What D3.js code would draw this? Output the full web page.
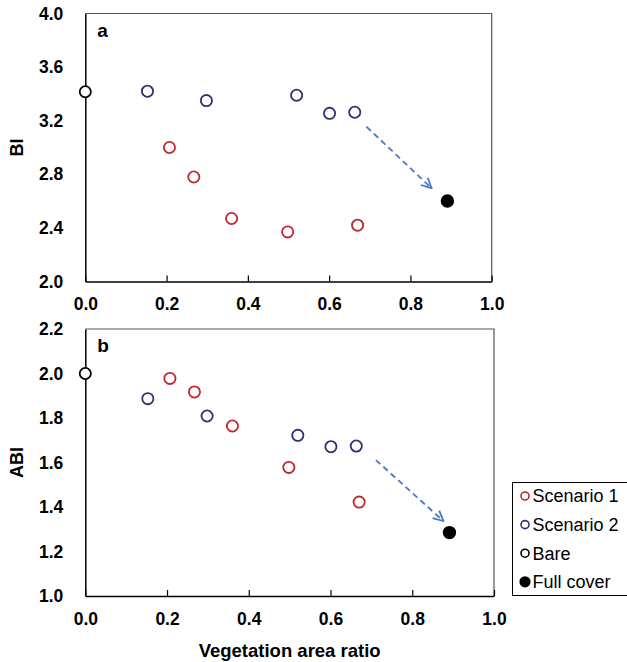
<!DOCTYPE html>
<html>
<head>
<meta charset="utf-8">
<script src="https://cdn.jsdelivr.net/npm/d3@7"></script>
<style>
  body { margin: 0; background: #fff; }
  svg { display: block; font-family: Arial, "Liberation Sans", sans-serif; }
  .tick text { font-weight: bold; font-size: 17.5px; fill: #000; }
</style>
</head>
<body>
<svg id="chart"></svg>
<script>
'use strict';

// vegetation area ratio for each run
var xScen1 = [0.207, 0.267, 0.360, 0.498, 0.670];
var xScen2 = [0.153, 0.298, 0.520, 0.601, 0.663];
var xBare = [0.0];
var xFull = [0.891];

// panel a: BI
var biScen1 = [3.00, 2.78, 2.47, 2.37, 2.42];
var biScen2 = [3.42, 3.35, 3.39, 3.255, 3.263];
var biBare = [3.416];
var biFull = [2.601];

// panel b: ABI
var abiScen1 = [1.978, 1.917, 1.764, 1.578, 1.422];
var abiScen2 = [1.887, 1.809, 1.722, 1.671, 1.674];
var abiBare = [2.0];
var abiFull = [1.285];

// dashed arrows (data coords: [x0, y0, x1, y1])
var arrowA = [0.692, 3.155, 0.852, 2.696];
var arrowB = [0.711, 1.611, 0.876, 1.337];

var xTicks = [0, 0.2, 0.4, 0.6, 0.8, 1.0];
var biTicks = [2.0, 2.4, 2.8, 3.2, 3.6, 4.0];
var abiTicks = [1.0, 1.2, 1.4, 1.6, 1.8, 2.0, 2.2];

var legendItems = ['Scenario 1', 'Scenario 2', 'Bare', 'Full cover'];

var red = '#c0282d', navy = '#2f3270', arrowBlue = '#4a78c8';

var width = 627, height = 662;
var svg = d3.select('#chart').attr('width', width).attr('height', height);

var defs = svg.append('defs');
defs.append('marker')
  .attr('id', 'head')
  .attr('markerUnits', 'userSpaceOnUse')
  .attr('viewBox', '0 0 12 12')
  .attr('refX', 11).attr('refY', 6)
  .attr('markerWidth', 12).attr('markerHeight', 12)
  .attr('orient', 'auto')
  .append('path')
  .attr('d', 'M1,1 L11,6 L1,11')
  .attr('fill', 'none')
  .attr('stroke', arrowBlue)
  .attr('stroke-width', 1.8);

function panel(opts) {
  var x = d3.scaleLinear().domain([0, 1]).range([opts.left, opts.right]);
  var y = d3.scaleLinear().domain(opts.yDomain).range([opts.bottom, opts.top]);
  var g = svg.append('g');

  // frame top/right
  g.append('path')
    .attr('d', 'M' + opts.left + ',' + opts.top + 'H' + opts.right + 'V' + opts.bottom)
    .attr('fill', 'none')
    .attr('stroke', '#555')
    .attr('stroke-width', 1.2);

  var xAxis = g.append('g')
    .attr('transform', 'translate(0,' + opts.bottom + ')')
    .call(d3.axisBottom(x).tickValues(xTicks).tickFormat(d3.format('.1f'))
      .tickSizeInner(-6).tickSizeOuter(0).tickPadding(opts.xPad));
  xAxis.select('.domain').attr('stroke', '#000').attr('stroke-width', 1.5);
  xAxis.selectAll('.tick line').attr('stroke', '#000').attr('stroke-width', 1.2);

  var yAxis = g.append('g')
    .attr('transform', 'translate(' + opts.left + ',0)')
    .call(d3.axisLeft(y).tickValues(opts.yTicks).tickFormat(d3.format('.1f'))
      .tickSize(0).tickPadding(22));
  yAxis.select('.domain').attr('stroke', '#000').attr('stroke-width', 1.5);

  // y title
  g.append('text')
    .attr('transform', 'translate(23,' + (opts.top + opts.bottom) / 2 + ') rotate(-90)')
    .attr('text-anchor', 'middle')
    .style('font-weight', 'bold')
    .style('font-size', '18px')
    .text(opts.yLabel);

  // panel letter
  g.append('text')
    .attr('x', opts.left + 12)
    .attr('y', opts.top + 23)
    .style('font-weight', 'bold')
    .style('font-size', '19px')
    .text(opts.letter);

  // arrow
  var a = opts.arrow;
  g.append('line')
    .attr('x1', x(a[0])).attr('y1', y(a[1]))
    .attr('x2', x(a[2])).attr('y2', y(a[3]))
    .attr('stroke', arrowBlue)
    .attr('stroke-width', 1.8)
    .attr('stroke-dasharray', '6,4')
    .attr('marker-end', 'url(#head)');

  function dots(xs, ys, color, filled, r) {
    g.append('g').selectAll('circle')
      .data(xs.map(function(d, i) { return [d, ys[i]]; }))
      .enter()
      .append('circle')
      .attr('cx', function(d) { return x(d[0]); })
      .attr('cy', function(d) { return y(d[1]); })
      .attr('r', r)
      .attr('fill', filled ? color : '#fff')
      .attr('stroke', color)
      .attr('stroke-width', 1.8);
  }
  dots(xScen1, opts.s1, red, false, 5.6);
  dots(xScen2, opts.s2, navy, false, 5.6);
  dots(xBare, opts.bare, '#000', false, 5.6);
  dots(xFull, opts.full, '#000', true, 5.8);
}

panel({
  left: 85.3, right: 491.7, top: 13.5, bottom: 281.5,
  yDomain: [2.0, 4.0], yTicks: biTicks, yLabel: 'BI', letter: 'a',
  s1: biScen1, s2: biScen2, bare: biBare, full: biFull,
  arrow: arrowA, xPad: 16.5
});

panel({
  left: 85.3, right: 494, top: 329, bottom: 596,
  yDomain: [1.0, 2.2], yTicks: abiTicks, yLabel: 'ABI', letter: 'b',
  s1: abiScen1, s2: abiScen2, bare: abiBare, full: abiFull,
  arrow: arrowB, xPad: 17
});

// x title
svg.append('text')
  .attr('x', (85.3 + 494) / 2)
  .attr('y', 657)
  .attr('text-anchor', 'middle')
  .style('font-weight', 'bold')
  .style('font-size', '18.5px')
  .text('Vegetation area ratio');

// legend
var legend = svg.append('g');
legend.append('rect')
  .attr('x', 512.5).attr('y', 482.5)
  .attr('width', 130).attr('height', 113)
  .attr('fill', '#fff')
  .attr('stroke', '#000')
  .attr('stroke-width', 1);

var legColors = [red, navy, '#000', '#000'];
var rows = legend.selectAll('g.row')
  .data(legendItems)
  .enter()
  .append('g')
  .attr('class', 'row')
  .attr('transform', function(d, i) { return 'translate(525,' + (496 + i * 28.6) + ')'; });

rows.append('circle')
  .attr('r', function(d, i) { return i === 3 ? 4.8 : 4; })
  .attr('fill', function(d, i) { return i === 3 ? '#000' : '#fff'; })
  .attr('stroke', function(d, i) { return legColors[i]; })
  .attr('stroke-width', 1.6);

rows.append('text')
  .attr('x', 7.5)
  .attr('dy', '0.35em')
  .style('font-size', '18px')
  .text(function(d) { return d; });
</script>
</body>
</html>
